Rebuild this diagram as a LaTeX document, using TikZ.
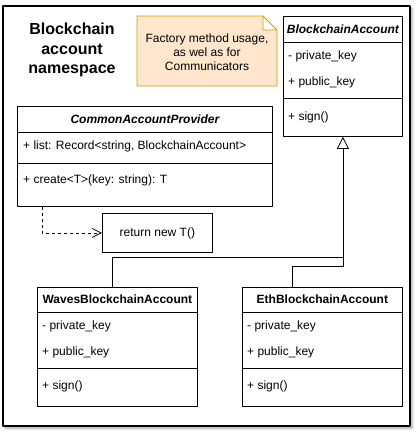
\documentclass[tikz,border=0pt]{standalone}
\usepackage{fontspec}
\setmainfont{Liberation Sans}
\usetikzlibrary{arrows.meta,shadows.blur,calc}
\definecolor{noteFill}{HTML}{FFE6CC}
\definecolor{noteDraw}{HTML}{D79B00}
\begin{document}
\begin{tikzpicture}[x=1pt,y=-1pt,line join=round,font=\fontsize{12}{14}\selectfont,
	box/.style={draw,line width=0.8pt,fill=white,anchor=north west,inner sep=0pt},
	field/.style={anchor=west,inner sep=0pt},
	head/.style={font=\fontsize{12}{14}\selectfont\bfseries,inner sep=0pt}]
	\useasboundingbox (0,0) rectangle (420,432);
	% namespace frame
	\draw[line width=1.2pt,fill=white,blur shadow={shadow xshift=2pt,shadow yshift=-2pt,shadow blur radius=2.5pt,shadow opacity=35}] (3,6) rectangle (410,426);
	\node[align=center,font=\fontsize{16}{19.5}\selectfont\bfseries] (ns) at (72,50) {Blockchain\\account\\namespace};
	% note
	\draw[line width=0.8pt,fill=noteFill,draw=noteDraw]
	(137,16) -- (263,16) -- (277,30) -- (277,86) -- (137,86) -- cycle
	(263,16) -- (263,30) -- (277,30)
	;
	\node[align=center] (note) at (207,52) {Factory method usage,\\as wel as for\\Communicators};
	% classes
	\node[box,minimum width=119pt,minimum height=120pt] (ba) at (283,16) {};
	\node[box,minimum width=255pt,minimum height=100pt] (cap) at (17,106) {};
	\node[box,minimum width=160pt,minimum height=119pt] (waves) at (37,287) {};
	\node[box,minimum width=160pt,minimum height=119pt] (eth) at (242,287) {};
	\node[box,minimum width=110pt,minimum height=39pt] (ret) at (102,213) {};
	\node (ret_t) at (ret.center) {return new T()};
	% BlockchainAccount
	\node[head] (ba_t) at ($(ba.north)+(0,13)$) {\itshape BlockchainAccount};
	\draw[line width=0.8pt]
	($(ba.north west)+(0,26)$) -- ($(ba.north east)+(0,26)$)
	($(ba.north west)+(0,82)$) -- ($(ba.north east)+(0,82)$)
	;
	\node[field] (ba_1) at ($(ba.north west)+(5,40)$) {- private\_key};
	\node[field] (ba_2) at ($(ba.north west)+(5,66)$) {+ public\_key};
	\node[field] (ba_3) at ($(ba.north west)+(5,101)$) {+ sign()};
	% CommonAccountProvider
	\node[head] (cap_t) at ($(cap.north)+(0,13)$) {\itshape CommonAccountProvider};
	\draw[line width=0.8pt]
	($(cap.north west)+(0,26)$) -- ($(cap.north east)+(0,26)$)
	($(cap.north west)+(0,57)$) -- ($(cap.north east)+(0,57)$)
	;
	\node[field] (cap_1) at ($(cap.north west)+(6,40)$) {+ list: Record<string, BlockchainAccount>};
	\node[field] (cap_2) at ($(cap.north west)+(6,74)$) {+ create<T>(key: string): T};
	% subclasses
	\foreach \c/\t in {waves/WavesBlockchainAccount,eth/EthBlockchainAccount}{
		\node[head] (\c_t) at ($(\c.north)+(0,12.5)$) {\t};
		\draw[line width=0.8pt]
		($(\c.north west)+(0,25)$) -- ($(\c.north east)+(0,25)$)
		($(\c.north west)+(0,81)$) -- ($(\c.north east)+(0,81)$)
		;
		\node[field] (\c_1) at ($(\c.north west)+(5,39)$) {- private\_key};
		\node[field] (\c_2) at ($(\c.north west)+(5,65)$) {+ public\_key};
		\node[field] (\c_3) at ($(\c.north west)+(5,99)$) {+ sign()};
	}
	% connectors
	\coordinate (j1) at ($(ba.south)+(0,121)$);
	\coordinate (j2) at ($(ba.south)+(0,130)$);
	\draw[line width=0.8pt]
	($(waves.north west)+(75,0)$) |- (j1)
	($(eth.north west)+(50,0)$) |- (j2)
	;
	\draw[line width=0.8pt,-{Triangle[open,length=12pt,width=12pt]}] (j2) -- (ba.south);
	\draw[line width=0.8pt,dash pattern=on 3pt off 3pt,-{Straight Barb[length=9pt,width=9pt]}] ($(cap.south west)+(25,0)$) |- (ret.west);
\end{tikzpicture}
\end{document}
